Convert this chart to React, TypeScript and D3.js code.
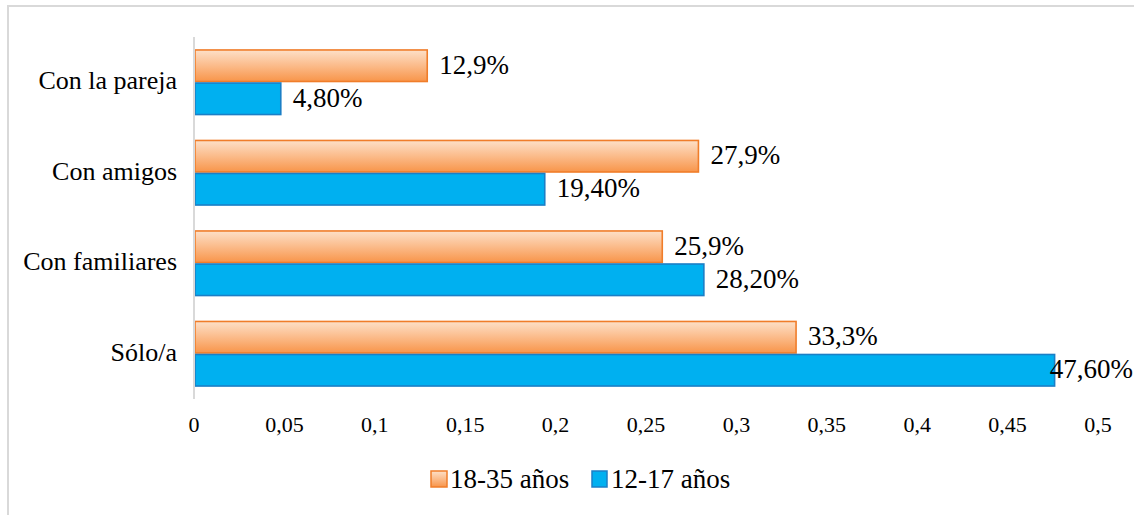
import React from "react";
import * as d3 from "d3";

const categories = ["Con la pareja", "Con amigos", "Con familiares", "Sólo/a"];
const seriesNames = ["18-35 años", "12-17 años"];
const values1835 = [0.129, 0.279, 0.259, 0.333];
const values1217 = [0.048, 0.194, 0.282, 0.476];
const labels1835 = ["12,9%", "27,9%", "25,9%", "33,3%"];
const labels1217 = ["4,80%", "19,40%", "28,20%", "47,60%"];
const xTicks = [0, 0.05, 0.1, 0.15, 0.2, 0.25, 0.3, 0.35, 0.4, 0.45, 0.5];

const W = 1134;
const H = 515;
const FONT = "Liberation Serif, Tinos, Times New Roman, serif";

export default function App() {
  const x = d3.scaleLinear().domain([0, 0.5]).range([194, 1098]);
  const y = d3
    .scaleBand<string>()
    .domain(categories)
    .range([37, 399])
    .paddingInner(0.27)
    .paddingOuter(0.135);
  const sub = d3
    .scaleBand<string>()
    .domain(seriesNames)
    .range([0, y.bandwidth()]);
  const fmt = (v: number) => String(v).replace(".", ",");
  const ts = { fontFamily: FONT };

  const series = [
    { name: seriesNames[0], values: values1835, labels: labels1835, fill: "url(#gOrange)", stroke: "#f07d2a" },
    { name: seriesNames[1], values: values1217, labels: labels1217, fill: "#00b0f0", stroke: "#1b7fc6" },
  ];

  return (
    <svg width={W} height={H} style={{ position: "absolute", left: 0, top: 0, fontFamily: FONT }}>
      <defs>
        <linearGradient id="gOrange" x1="0" y1="0" x2="0" y2="1">
          <stop offset="0" stopColor="#fde0c8" />
          <stop offset="0.5" stopColor="#fbbb8a" />
          <stop offset="1" stopColor="#f8954a" />
        </linearGradient>
      </defs>
      <rect x={8} y={6} width={W + 50} height={H + 50} fill="#fff" stroke="#d9d9d9" strokeWidth={2} />

      {series.map((s) =>
        categories.map((c, i) => {
          const by = (y(c) as number) + (sub(s.name) as number);
          const bw = sub.bandwidth();
          const xe = x(s.values[i]);
          const tooFar = xe + 12 + 85 > W;
          return (
            <g key={s.name + c}>
              <rect x={x(0) + 1} y={by + 0.75} width={xe - x(0) - 1} height={bw - 1.5} fill={s.fill} stroke={s.stroke} strokeWidth={1.6} />
              <text
                x={tooFar ? W - 1 : xe + 12}
                y={by + bw / 2 + 2}
                textAnchor={tooFar ? "end" : "start"}
                dominantBaseline="middle"
                fontSize={27}
                fill="#000"
                style={ts}
              >
                {s.labels[i]}
              </text>
            </g>
          );
        })
      )}

      <line x1={x(0)} x2={x(0)} y1={37} y2={399} stroke="#d9d9d9" strokeWidth={2} />

      {categories.map((c) => (
        <text key={c} x={177} y={(y(c) as number) + y.bandwidth() / 2 + 1} textAnchor="end" dominantBaseline="middle" fontSize={26} fill="#000" style={ts}>
          {c}
        </text>
      ))}

      {xTicks.map((t) => (
        <text key={t} x={x(t)} y={432} textAnchor="middle" fontSize={22} fill="#000" style={ts}>
          {fmt(t)}
        </text>
      ))}

      <g>
        <rect x={431} y={471} width={16} height={16} fill="url(#gOrange)" stroke="#f07d2a" strokeWidth={1.5} />
        <text x={450} y={488} fontSize={27} fill="#000" style={ts}>{seriesNames[0]}</text>
        <rect x={592} y={471} width={15} height={16} fill="#00b0f0" stroke="#1b7fc6" strokeWidth={1.5} />
        <text x={611} y={488} fontSize={27} fill="#000" style={ts}>{seriesNames[1]}</text>
      </g>
    </svg>
  );
}
